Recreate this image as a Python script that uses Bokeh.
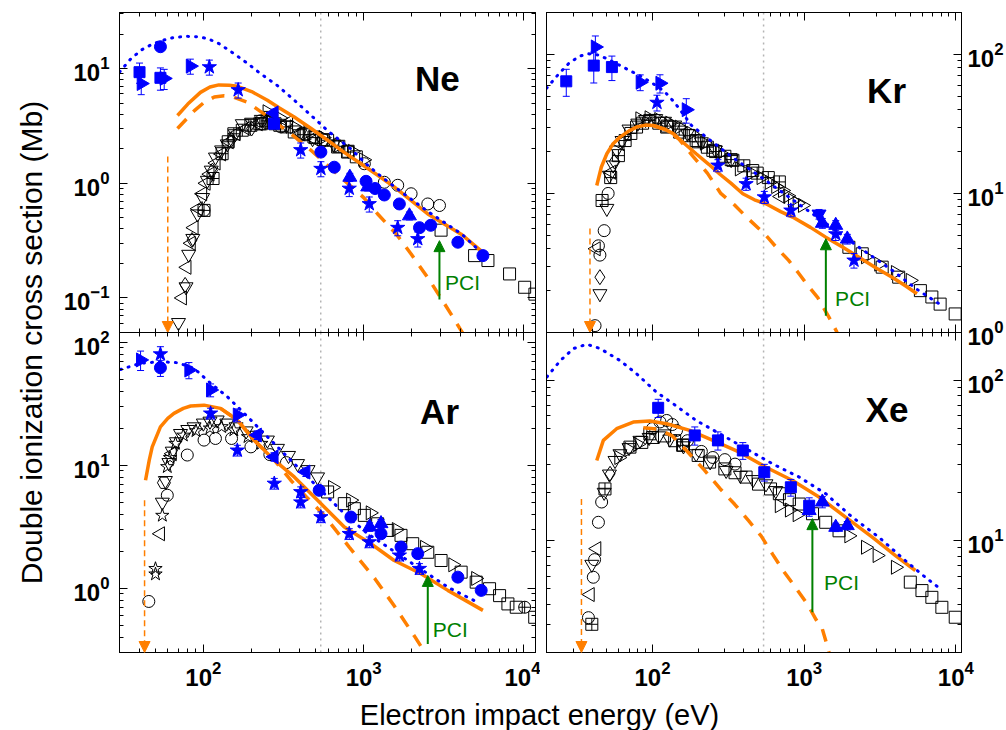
import math
from bokeh.plotting import figure
from bokeh.layouts import row, column
from bokeh.models import (Range1d, LogAxis, FixedTicker, Span, Label, Arrow,
                          NormalHead, Whisker, TeeHead, ColumnDataSource)
from bokeh.embed import file_html
from bokeh.resources import INLINE

FONT = "Liberation Sans"
ORANGE = "#ff7f00"
BLUE = "#0000ff"
GREEN = "#008000"

# ---------------- axis data ----------------
X_MAJOR = [100, 1000, 10000]
NE_Y_MAJOR = [0.1, 1, 10]
KR_Y_MAJOR = [1, 10, 100]
AR_Y_MAJOR = [1, 10, 100]
XE_Y_MAJOR = [10, 100]
X_LEFT_RANGE = (30, 11800)
X_RIGHT_RANGE = (20, 10900)
NE_Y_RANGE = (0.05, 30.8)
KR_Y_RANGE = (1.0, 200)
AR_Y_RANGE = (0.30, 120)
XE_Y_RANGE = (2.0, 199)
SEPARATOR_E = 540

# ---------------- Ne ----------------
NE_DOT = [(30, 9.3), (35, 12.0), (41, 14.5), (48, 16.3), (55, 17.5), (65, 18.6), (78, 19.1), (92, 18.9),
          (106, 18.3), (125, 16.5), (155, 13.5), (190, 11.0), (228, 9.0), (290, 7.1), (369, 5.3), (480, 3.8),
          (600, 2.85), (830, 2.0), (1050, 1.45), (1300, 1.13), (1800, 0.8), (2500, 0.57), (3300, 0.44),
          (4100, 0.36), (5400, 0.25)]
NE_SOLID = [(69, 3.9), (80, 4.9), (96, 6.2), (110, 6.9), (125, 7.2), (145, 7.15), (163, 7.0), (200, 6.3),
            (251, 5.3), (300, 4.5), (369, 3.78), (470, 3.0), (596, 2.37), (760, 1.85), (962, 1.48),
            (1250, 1.15), (1550, 0.93), (2000, 0.7), (2512, 0.54), (3200, 0.44), (4055, 0.36), (5545, 0.25)]
NE_DASH = [(69, 3.0), (78, 3.6), (88, 4.3), (100, 5.0), (117, 5.65), (135, 5.8), (150, 5.7), (188, 5.1),
           (240, 4.0), (290, 3.3), (370, 2.55), (469, 1.94), (600, 1.42), (757, 1.06), (1000, 0.75),
           (1223, 0.54), (1600, 0.36), (1977, 0.242), (2600, 0.14), (3516, 0.072), (4200, 0.048)]
NE_B_SQ = [(40, 9.3, 0.2), (54, 8.3, 0.22), (276, 3.3, 0.08)]
NE_B_RT = [(41, 7.4, 0.2), (57, 8.2, 0.2), (83, 10.5, 0.15)]
NE_B_LT = [(276, 4.1, 0.08)]
NE_B_CI = [(54, 15.5, 0), (541, 1.87, 0), (656, 1.38, 0.08), (1035, 1.04, 0.08), (1178, 0.9, 0.08),
           (1346, 0.79, 0.08), (1670, 0.66, 0.08), (2230, 0.41, 0.08), (2620, 0.43, 0.08),
           (3870, 0.306, 0.06), (5545, 0.234, 0.06)]
NE_B_ST = [(109, 10.3, 0.15), (165, 6.5, 0.15), (405, 1.95, 0.15), (541, 1.34, 0.15), (813, 0.9, 0.15),
           (1084, 0.66, 0.15), (1631, 0.41, 0.15), (2175, 0.327, 0.15)]
NE_B_UT = [(820, 1.13, 0.08), (1060, 0.93, 0.08), (1930, 0.52, 0.08)]
NE_K_DT = [(70, 0.061), (78, 0.125), (81, 0.24), (86, 0.33), (92, 0.54), (99, 0.75), (106, 1.06), (112, 1.3),
           (119, 1.69), (130, 1.95), (141, 2.2), (158, 2.7), (175, 3.3), (200, 3.4), (230, 3.6), (263, 3.9),
           (330, 3.2), (400, 2.7), (480, 2.45), (560, 2.3), (650, 2.2)]
NE_K_LT = [(74, 0.1), (79, 0.185), (84, 0.3), (87.5, 0.41), (93, 0.6), (99, 0.81), (104, 1.0), (110, 1.2),
           (120, 1.5), (130, 1.8), (145, 2.3), (160, 2.7), (185, 3.0), (220, 3.3), (275, 4.0), (340, 3.4),
           (405, 2.7), (500, 2.4)]
NE_K_DI = [(77, 0.13), (85, 0.32), (114, 1.29), (150, 2.4), (200, 3.0)]
NE_K_SX = [(101, 0.58), (115, 1.1), (131, 1.81), (143, 2.3), (155, 2.7), (175, 2.9), (198, 3.2), (225, 3.3),
           (250, 3.5), (280, 3.3), (330, 3.1), (420, 2.65), (500, 2.5), (596, 2.37), (700, 2.1), (794, 1.87)]
NE_K_CI = [(101, 0.58), (228, 3.5), (304, 3.1), (1010, 1.48), (1346, 1.02), (1631, 0.96), (1977, 0.81),
           (2512, 0.66), (2972, 0.64)]
NE_K_SQ = [(230, 3.3), (260, 3.4), (300, 3.2), (369, 2.8), (430, 2.7), (490, 2.53), (560, 2.4), (688, 2.07),
           (800, 1.9), (900, 1.7), (3040, 0.39), (4920, 0.234), (5960, 0.212), (8130, 0.162), (10100, 0.124),
           (11700, 0.108)]
NE_K_RT = [(250, 4.2), (300, 3.7), (369, 3.1), (450, 2.8), (560, 2.5), (700, 2.15), (850, 1.9), (1000, 1.6)]
NE_THRESHOLD = (60, 1.71)
NE_PCI = (2970, 0.097, 0.316)
NE_PCI_TEXT = (3220, 0.136)
NE_NAME = (2090, 8.2)

# ---------------- Kr ----------------
KR_DOT = [(20, 57), (24, 72), (28, 86), (33, 97), (38, 101), (44, 99), (50, 93), (60, 84), (70, 77), (85, 69),
          (100, 62), (120, 54), (140, 45), (160, 37), (180, 31), (230, 25), (340, 18), (500, 13.5), (840, 9.0),
          (1390, 6.1), (2300, 4.1), (3800, 2.8), (5700, 2.0), (8100, 1.56)]
KR_SOLID = [(42.9, 11.4), (46, 15.5), (50, 19.3), (55, 22.8), (61, 25.4), (70, 28.2), (78.5, 30), (90, 31),
            (101, 30.8), (120, 29), (137, 26.9), (165, 22.5), (194, 19.3), (235, 16.2), (277, 13.8), (330, 11.8),
            (394, 9.95), (470, 9.0), (560, 8.43), (700, 7.4), (838, 6.76), (1100, 5.7), (1387, 4.85),
            (1800, 4.1), (2296, 3.48), (3000, 2.9), (3800, 2.5), (4700, 2.15), (5545, 1.9)]
KR_DASH = [(101, 30.8), (125, 28.5), (150, 24.5), (185, 18.5), (230, 14.0), (282, 10.0), (350, 8.2),
           (414, 6.8), (550, 5.1), (668, 4.0), (790, 3.3), (912, 2.7), (1050, 2.2), (1230, 1.78), (1450, 1.3),
           (1650, 1.0)]
KR_B_SQ = [(27, 64, 0.22), (41, 83, 0.25), (54, 81, 0.2)]
KR_B_RT = [(42, 113, 0.2), (83, 63, 0.13), (112, 62, 0.15), (167, 40, 0.2)]
KR_B_ST = [(107, 45, 0.13), (270, 15.9, 0.1), (414, 11.7, 0.1), (546, 9.4, 0.1), (817, 7.55, 0.1),
           (1615, 5.1, 0.1), (2130, 3.3, 0.12)]
KR_B_DT = [(1253, 7.1, 0.08)]
KR_B_UT = [(1318, 6.1, 0.08), (1615, 5.9, 0.08), (1925, 4.7, 0.08)]
KR_K_CI = [(41.8, 1.12), (45, 3.6), (48, 5.4), (51, 10), (44, 4.2)]
KR_K_DT = [(45, 1.9), (50, 7.8), (52, 13.5), (55, 16), (58, 20.5), (63, 24), (70, 29), (80, 32), (90, 34),
           (105, 34.5), (120, 33), (140, 31), (170, 27), (210, 23.5), (260, 20.5), (330, 17.5)]
KR_K_LT = [(42.5, 4.0), (53.7, 14.2), (61, 22.8), (700, 9.5)]
KR_K_DI = [(45, 2.5), (56, 17)]
KR_K_SX = [(46.5, 8.9), (53, 13), (59.6, 18.7), (66, 24), (72, 27), (78.5, 30), (86, 32), (96, 33.5), (110, 32),
           (125, 30.5), (150, 29), (175, 26), (200, 23.5), (230, 21.5), (260, 20), (300, 18.5), (330, 17.5),
           (400, 15.8), (490, 14.0), (580, 13), (686, 12.1)]
KR_K_SQ = [(124, 30), (151, 27.6), (194, 24), (250, 20.4), (339, 17.3), (458, 14.6), (1972, 4.1), (2415, 3.68),
           (3270, 2.95), (4200, 2.5), (5840, 2.0), (6950, 1.8), (7880, 1.6), (9900, 1.36)]
KR_K_RT = [(82.6, 34.4), (95, 35), (110, 34), (130, 32), (150, 30), (180, 27), (220, 23), (280, 19.5),
           (374, 15), (450, 14), (520, 13), (589, 12), (650, 11.2), (720, 10.5), (780, 9.6), (838, 8.9),
           (900, 8.5), (975, 8.2), (2540, 3.5), (3105, 3.1), (4000, 2.7), (5010, 2.37)]
KR_THRESHOLD = (38.7, 5.6)
KR_PCI = (1390, 1.32, 4.72)
KR_PCI_TEXT = (1600, 1.75)
KR_NAME = (2600, 55)

# ---------------- Ar ----------------
AR_DOT = [(30.4, 60), (40.6, 67.4), (54, 69.5), (68.8, 68.2), (87.5, 61.4), (111, 46.4), (141, 36.1),
          (180, 26.4), (228, 19.3), (290, 14.1), (369, 10.3), (469, 7.55), (596, 5.52), (757, 4.04),
          (1060, 2.77), (1413, 2.16), (1884, 1.68), (2512, 1.31), (3350, 1.02), (4920, 0.79)]
AR_SOLID = [(43.6, 7.55), (46, 11), (48, 14.1), (54, 20.5), (60, 24), (65.6, 26.4), (75, 29), (83.4, 30.3),
            (101, 30.8), (128, 29), (163, 23.3), (207, 16), (277, 11), (369, 8.03), (516, 5.19), (757, 3.14),
            (1110, 2.3), (1550, 1.68), (2280, 1.31), (3350, 0.96), (5545, 0.66)]
AR_DASH = [(128, 29), (163, 23.3), (207, 16), (277, 11), (351, 7.55), (441, 5.5), (554, 4.04), (813, 2.16),
           (1178, 1.19), (1550, 0.72), (2094, 0.40), (2300, 0.33)]
AR_B_RT = [(40.6, 71.8, 0.18), (81.3, 59.4, 0.15), (111, 40.9, 0.12), (163, 25.6, 0.12)]
AR_B_LT = [(217, 17.6, 0.08), (276, 11.7, 0.08), (436, 8.8, 0.08)]
AR_B_CI = [(54, 62, 0.15), (528, 6.25, 0), (833, 3.79, 0), (1283, 2.77, 0), (1710, 2.16, 0), (2175, 1.91, 0),
           (3870, 1.23, 0), (5410, 0.96, 0)]
AR_B_ST = [(54, 80, 0.15), (111, 26.4, 0.1), (163, 13.2, 0.1), (277, 7.1, 0.1), (405, 6.06, 0.1),
           (405, 5.0, 0.1), (541, 3.79, 0.1), (813, 2.77, 0.1), (1084, 2.37, 0.1), (1671, 1.85, 0.1),
           (2228, 1.44, 0.1)]
AR_B_UT = [(1090, 3.15, 0.08), (1283, 3.35, 0.08)]
AR_K_CI = [(45.7, 0.78), (59.6, 5.7), (79.4, 12.1), (101, 16), (119, 16.5), (150, 16.5), (198, 14.1),
           (260, 12.2), (330, 10.5)]
AR_K_ST = [(50.3, 1.44), (50.3, 1.3), (55.5, 3.9), (59.6, 9.7), (62, 11.5), (67, 15), (75, 17.5), (90, 19),
           (110, 20), (130, 20.5), (155, 19.3), (190, 17), (230, 15)]
AR_K_LT = [(54, 2.77), (64, 12.4)]
AR_K_DT = [(55.5, 5.0), (58, 7.5), (61, 10.5), (64, 13), (68, 15.5), (72, 18.1), (80, 19.5), (87.5, 20.5),
           (100, 22), (110, 22.8), (122, 23.3), (140, 22), (160, 20.5), (185, 19), (215, 17.5), (251, 16),
           (290, 13.7), (340, 12), (387, 10.3), (450, 9.2), (516, 8.03)]
AR_K_HX = [(56.8, 7.2)]
AR_K_SQ = [(596, 6.06), (757, 4.87), (875, 4.43), (1010, 3.91), (1223, 3.34), (1413, 2.95), (1710, 2.69),
           (2023, 2.3), (2512, 1.96), (3040, 1.68), (4055, 1.35), (5035, 1.12), (6100, 0.99), (7045, 0.87),
           (7940, 0.745), (8950, 0.70), (11670, 0.58)]
AR_K_CC = [(10100, 0.70)]
AR_K_RT = [(640, 6.6), (830, 5.2), (1100, 4.1), (1600, 3.0), (2400, 2.15), (3600, 1.55), (5000, 1.2)]
AR_THRESHOLD = (43, 5.2)
AR_PCI = (2512, 0.352, 1.27)
AR_PCI_TEXT = (2700, 0.458)
AR_NAME = (2250, 27.2)

# ---------------- Xe ----------------
XE_DOT = [(20.1, 105), (24.7, 133), (30.1, 158), (36.9, 168), (45.1, 158), (61, 133), (78.5, 110), (106, 84.5),
          (137, 71.4), (194, 56.2), (291, 45.3), (414, 37.4), (620, 30.1), (927, 24.9), (1387, 19.6),
          (2075, 14), (3105, 10.5), (4645, 7.5), (6290, 5.9), (7885, 5.0)]
XE_SOLID = [(42.9, 31.6), (47.4, 42.2), (58, 49.9), (74.7, 54.9), (96, 55.7), (124, 53.6), (176, 48.7),
            (250, 42.2), (374, 35.6), (560, 28.7), (838, 23.7), (1253, 18.7), (1875, 14), (2810, 10.5),
            (4000, 8.06), (5410, 6.5)]
XE_DASH = [(87, 50.6), (110, 49.5), (135, 45), (165, 37), (220, 27.5), (280, 21), (347, 16.9), (430, 13.3),
           (520, 10.7), (620, 8.2), (740, 6.34), (890, 5.0), (1052, 4.0), (1200, 3.2), (1318, 2.8), (1400, 2.3),
           (1458, 2.0)]
XE_B_SQ = [(109, 67.4, 0.13), (190, 45.3, 0.13), (270, 42.2, 0.13), (394, 36.5, 0.12), (546, 26.7, 0.12),
           (817, 21.5, 0.12), (1079, 16.5, 0.12)]
XE_B_UT = [(1079, 15.4, 0.08), (1318, 17.4, 0.08), (1615, 12.1, 0.06), (1925, 12.4, 0.06)]
XE_K_CI = [(37.8, 3.3), (40.7, 5.9), (41.5, 7.6), (44, 13), (46.2, 17.4), (100, 50), (112, 55), (124, 56.2),
           (135, 53), (144, 48.7), (170, 42), (210, 36), (250, 33), (300, 32), (350, 30)]
XE_K_SX = [(39.8, 3.0), (48.6, 21), (96, 46.4), (158, 39.3)]
XE_K_LT = [(38.8, 4.6), (42.9, 8.9)]
XE_K_DT = [(39.8, 7.1), (48, 20), (52, 26), (56.6, 31.6), (61, 34.8), (70, 38), (82.6, 42.2), (95, 44),
           (110, 45), (130, 43), (160, 39), (194, 34.8), (240, 31), (306, 27.4), (380, 25.5), (460, 24),
           (560, 22.6), (650, 20.5)]
XE_K_DI = [(52.5, 26.1)]
XE_K_SQ = [(71, 38.3), (85, 41), (100, 44), (120, 45), (140, 42), (160, 39.5), (200, 34), (238, 30.9),
           (300, 28), (350, 26.5), (414, 24.9), (500, 22.5), (600, 21), (686, 19.6), (800, 18), (927, 16.9),
           (1135, 14.7), (1387, 13), (1698, 11.5), (5010, 5.5), (5980, 4.87), (6950, 4.42), (8090, 3.83),
           (9910, 3.32)]
XE_K_RT = [(60, 33), (70, 37), (80, 40), (686, 16.5), (800, 15.5), (900, 14.5), (1972, 10.7), (2540, 9.08),
           (3030, 8.06), (4000, 6.81)]
XE_THRESHOLD = (34, 18.2)
XE_PCI = (1133, 3.57, 13.7)
XE_PCI_TEXT = (1352, 5.48)
XE_NAME = (2540, 65.6)

RIGHT = -math.pi / 2
LEFT = math.pi / 2


def minors(major_lo_exp, major_hi_exp):
    return [m * 10.0 ** e for e in range(major_lo_exp, major_hi_exp) for m in range(2, 10)]


def make_axis(major, minor, labels, standoff):
    ax = LogAxis(ticker=FixedTicker(ticks=major, minor_ticks=minor))
    ax.axis_line_color = "black"
    ax.axis_line_width = 1
    ax.major_tick_in = 8
    ax.major_tick_out = 0
    ax.minor_tick_in = 4
    ax.minor_tick_out = 0
    ax.major_tick_line_color = "black"
    ax.minor_tick_line_color = "black"
    ax.major_label_text_font = FONT
    if labels:
        ax.major_label_text_font_style = "bold"
        ax.major_label_text_font_size = "24px"
        ax.major_label_text_color = "black"
        ax.major_label_standoff = standoff
    else:
        ax.major_label_text_font_size = "1px"
        ax.major_label_text_color = None
        ax.major_label_standoff = 0
    return ax


def black(p, pts, marker, size, angle=0.0):
    p.scatter([a for a, _ in pts], [b for _, b in pts], marker=marker, size=size, angle=angle,
              fill_color=None, line_color="black", line_width=1)


def blue(p, pts, marker, size, angle=0.0):
    xs = [a for a, _, _ in pts]
    ys = [b for _, b, _ in pts]
    err = [(a, b, c) for a, b, c in pts if c > 0]
    if err:
        src = ColumnDataSource(dict(x=[a for a, _, _ in err],
                                    lo=[b * (1 - c) for _, b, c in err],
                                    hi=[b * (1 + c) for _, b, c in err]))
        p.add_layout(Whisker(source=src, base="x", lower="lo", upper="hi", dimension="height",
                             line_color=BLUE, line_width=1, level="glyph",
                             upper_head=TeeHead(size=7, line_color=BLUE, line_width=1),
                             lower_head=TeeHead(size=7, line_color=BLUE, line_width=1)))
    p.scatter(xs, ys, marker=marker, size=size, angle=angle, fill_color=BLUE, line_color=BLUE)


def curve(p, pts, color, width, dash="solid", cap="butt"):
    p.line([a for a, _ in pts], [b for _, b in pts], line_color=color, line_width=width,
           line_dash=dash, line_cap=cap)


def make_panel(w, h, borders, xr, yr, ymajor, yexp, label_y_side, label_x, transparent):
    p = figure(width=w, height=h, x_axis_type="log", y_axis_type="log",
               x_range=Range1d(*xr), y_range=Range1d(*yr),
               x_axis_location=None, y_axis_location=None,
               output_backend="svg", toolbar_location=None,
               min_border_left=borders[0], min_border_right=borders[1],
               min_border_top=borders[2], min_border_bottom=borders[3])
    p.grid.grid_line_color = None
    p.outline_line_color = "black"
    p.outline_line_width = 1
    if transparent:
        p.background_fill_color = None
        p.border_fill_color = None
    xmin = minors(1, 5)
    ymin = minors(yexp[0], yexp[1])
    p.add_layout(make_axis(X_MAJOR, xmin, label_x, 8), "below")
    p.add_layout(make_axis(X_MAJOR, xmin, False, 0), "above")
    p.add_layout(make_axis(ymajor, ymin, label_y_side == "left", 10), "left")
    p.add_layout(make_axis(ymajor, ymin, label_y_side == "right", 6), "right")
    p.add_layout(Span(location=SEPARATOR_E, dimension="height", line_color="#b4b4b4",
                      line_dash="2 4", line_width=1.5, level="underlay"))
    return p


def decorate(p, name, name_pos, thr, pci, pci_text, ybottom):
    p.add_layout(Arrow(x_start=thr[0], y_start=thr[1], x_end=thr[0], y_end=ybottom,
                       line_color=ORANGE, line_width=1.5, line_dash="6 4",
                       end=NormalHead(size=11, fill_color=ORANGE, line_color=ORANGE, line_width=1)))
    p.add_layout(Arrow(x_start=pci[0], y_start=pci[1], x_end=pci[0], y_end=pci[2],
                       line_color=GREEN, line_width=2,
                       end=NormalHead(size=11, fill_color=GREEN, line_color=GREEN, line_width=1)))
    p.add_layout(Label(x=pci_text[0], y=pci_text[1], text="PCI", text_font=FONT, text_font_size="21px",
                       text_color=GREEN, text_baseline="alphabetic"))
    p.add_layout(Label(x=name_pos[0], y=name_pos[1], text=name, text_font=FONT, text_font_size="35px",
                       text_font_style="bold", text_color="black", text_baseline="alphabetic"))


TOP_H, TOP_EXT = 354, 22
BOT_H, BOT_EXT = 368, 10
TRI, SQ, CI, DI = 14, 12, 12, 15

# ---------------- Ne panel ----------------
ne = make_panel(480, TOP_H, (59, 5, 12, TOP_EXT), X_LEFT_RANGE, NE_Y_RANGE, NE_Y_MAJOR, (-2, 2), "left", False, False)
black(ne, NE_K_DT, "inverted_triangle", TRI)
black(ne, NE_K_LT, "triangle", TRI, LEFT)
black(ne, NE_K_DI, "diamond", DI)
black(ne, NE_K_SX, "square_cross", SQ)
black(ne, NE_K_CI, "circle", CI)
black(ne, NE_K_SQ, "square", SQ)
black(ne, NE_K_RT, "triangle", TRI, RIGHT)
curve(ne, NE_SOLID, ORANGE, 3.5)
curve(ne, NE_DASH, ORANGE, 3.5, "13 10")
curve(ne, NE_DOT, BLUE, 3, "1 7", "round")
blue(ne, NE_B_SQ, "square", 11)
blue(ne, NE_B_RT, "triangle", 14, RIGHT)
blue(ne, NE_B_LT, "triangle", 14, LEFT)
blue(ne, NE_B_CI, "circle", 12)
blue(ne, NE_B_ST, "star", 15)
blue(ne, NE_B_UT, "triangle", 14)
decorate(ne, "Ne", NE_NAME, NE_THRESHOLD, NE_PCI, NE_PCI_TEXT, NE_Y_RANGE[0])

# ---------------- Kr panel ----------------
kr = make_panel(466, TOP_H, (6, 43, 12, TOP_EXT), X_RIGHT_RANGE, KR_Y_RANGE, KR_Y_MAJOR, (0, 3), "right", False, False)
black(kr, KR_K_CI, "circle", CI)
black(kr, KR_K_DT, "inverted_triangle", TRI)
black(kr, KR_K_LT, "triangle", TRI, LEFT)
black(kr, KR_K_DI, "diamond", DI)
black(kr, KR_K_SX, "square_cross", SQ)
black(kr, KR_K_SQ, "square", SQ)
black(kr, KR_K_RT, "triangle", TRI, RIGHT)
curve(kr, KR_SOLID, ORANGE, 3.5)
curve(kr, KR_DASH, ORANGE, 3.5, "13 10")
curve(kr, KR_DOT, BLUE, 3, "1 7", "round")
blue(kr, KR_B_SQ, "square", 11)
blue(kr, KR_B_RT, "triangle", 14, RIGHT)
blue(kr, KR_B_ST, "star", 15)
blue(kr, KR_B_DT, "inverted_triangle", 14)
blue(kr, KR_B_UT, "triangle", 14)
decorate(kr, "Kr", KR_NAME, KR_THRESHOLD, KR_PCI, KR_PCI_TEXT, KR_Y_RANGE[0])

# ---------------- Ar panel ----------------
ar = make_panel(480, BOT_H, (59, 5, BOT_EXT, 38), X_LEFT_RANGE, AR_Y_RANGE, AR_Y_MAJOR, (-1, 3), "left", True, True)
black(ar, AR_K_CI, "circle", CI)
black(ar, AR_K_ST, "star", TRI)
black(ar, AR_K_LT, "triangle", TRI, LEFT)
black(ar, AR_K_DT, "inverted_triangle", TRI)
black(ar, AR_K_HX, "hex", 13)
black(ar, AR_K_SQ, "square", SQ)
black(ar, AR_K_CC, "circle_cross", CI)
black(ar, AR_K_RT, "triangle", TRI, RIGHT)
curve(ar, AR_SOLID, ORANGE, 3.5)
curve(ar, AR_DASH, ORANGE, 3.5, "13 10")
curve(ar, AR_DOT, BLUE, 3, "1 7", "round")
blue(ar, AR_B_RT, "triangle", 14, RIGHT)
blue(ar, AR_B_LT, "triangle", 14, LEFT)
blue(ar, AR_B_CI, "circle", 12)
blue(ar, AR_B_ST, "star", 15)
blue(ar, AR_B_UT, "triangle", 14)
decorate(ar, "Ar", AR_NAME, AR_THRESHOLD, AR_PCI, AR_PCI_TEXT, AR_Y_RANGE[0])

# ---------------- Xe panel ----------------
xe = make_panel(466, BOT_H, (6, 43, BOT_EXT, 38), X_RIGHT_RANGE, XE_Y_RANGE, XE_Y_MAJOR, (0, 3), "right", True, True)
black(xe, XE_K_CI, "circle", CI)
black(xe, XE_K_SX, "square_cross", SQ)
black(xe, XE_K_LT, "triangle", TRI, LEFT)
black(xe, XE_K_DT, "inverted_triangle", TRI)
black(xe, XE_K_DI, "diamond", DI)
black(xe, XE_K_SQ, "square", SQ)
black(xe, XE_K_RT, "triangle", TRI, RIGHT)
curve(xe, XE_SOLID, ORANGE, 3.5)
curve(xe, XE_DASH, ORANGE, 3.5, "13 10")
curve(xe, XE_DOT, BLUE, 3, "1 7", "round")
blue(xe, XE_B_SQ, "square", 11)
blue(xe, XE_B_UT, "triangle", 14)
decorate(xe, "Xe", XE_NAME, XE_THRESHOLD, XE_PCI, XE_PCI_TEXT, XE_Y_RANGE[0])

# ---------------- shared axis titles ----------------
ylab = figure(width=60, height=690, x_range=Range1d(0, 60), y_range=Range1d(0, 690),
              x_axis_location=None, y_axis_location=None, output_backend="svg",
              toolbar_location=None, min_border=0)
ylab.grid.grid_line_color = None
ylab.outline_line_color = None
ylab.add_layout(Label(x=31, y=348, text="Double ionization cross section (Mb)", angle=math.pi / 2,
                      text_align="center", text_baseline="middle", text_font=FONT,
                      text_font_size="30px", text_color="black"))

xlab = figure(width=1006, height=40, x_range=Range1d(0, 1006), y_range=Range1d(0, 40),
              x_axis_location=None, y_axis_location=None, output_backend="svg",
              toolbar_location=None, min_border=0)
xlab.grid.grid_line_color = None
xlab.outline_line_color = None
xlab.add_layout(Label(x=539, y=16, text="Electron impact energy (eV)", text_align="center",
                      text_baseline="alphabetic", text_font=FONT, text_font_size="29px",
                      text_color="black"))

top_row = row(ne, kr)
bottom_row = row(ar, xe, styles={"margin-top": "-%dpx" % (TOP_EXT + BOT_EXT)})
layout = column(row(ylab, column(top_row, bottom_row)), xlab)

open("out.html", "w").write(file_html(layout, INLINE, title="Double ionization cross sections"))
